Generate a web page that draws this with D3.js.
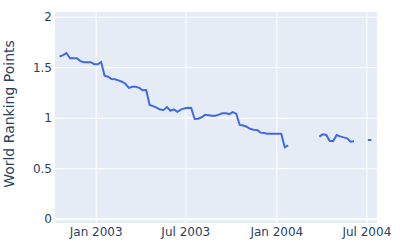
<!DOCTYPE html>
<html>
<head>
<meta charset="utf-8">
<script src="https://cdn.jsdelivr.net/npm/d3@7"></script>
<style>
  body { margin: 0; background: #fff; }
  text { font-family: "DejaVu Sans", Verdana, Arial, sans-serif; }
</style>
</head>
<body>
<svg id="viz"></svg>
<script>
// weekly rankings, starting week of 20 Oct 2002 (null = no ranking that week)
const startDate = "2002-10-20";
const points = [
  1.604, 1.62, 1.64, 1.588, 1.588, 1.588, 1.56, 1.55, 1.549, 1.549,
  1.53, 1.529, 1.551, 1.416, 1.406, 1.383, 1.38, 1.37, 1.356, 1.336,
  1.295, 1.307, 1.307, 1.295, 1.272, 1.274, 1.126, 1.115, 1.10, 1.08,
  1.076, 1.105, 1.069, 1.083, 1.059, 1.08, 1.092, 1.099, 1.096, 0.987,
  0.99, 1.004, 1.028, 1.025, 1.02, 1.02, 1.03, 1.044, 1.044, 1.036,
  1.056, 1.04, 0.928, 0.922, 0.911, 0.89, 0.88, 0.878, 0.852, 0.848,
  0.842, 0.842, 0.842, 0.842, 0.842, 0.707, 0.727, null, null, null,
  null, null, null, null, null, 0.812, 0.835, 0.829, 0.769, 0.769,
  0.829, 0.815, 0.805, 0.796, 0.762, 0.766, null, null, null, 0.779,
  0.779
];
const xTicks = ["2003-01-01", "2003-07-01", "2004-01-01", "2004-07-01"];
const xTickLabels = ["Jan 2003", "Jul 2003", "Jan 2004", "Jul 2004"];
const yTicks = [0, 0.5, 1, 1.5, 2];

const width = 400, height = 250;
const plotLeft = 55, plotRight = 377, plotTop = 12, plotBottom = 223;

const parse = d3.timeParse("%Y-%m-%d");
const start = parse(startDate);
const data = points.map((v, i) => ({ date: d3.timeDay.offset(start, i * 7), value: v }));

const svg = d3.select("#viz").attr("width", width).attr("height", height);

// scale pinned on Jan 2003 / Jan 2004 gridlines, then widened to the plot edges
const x0 = d3.scaleTime().domain([parse("2003-01-01"), parse("2004-01-01")]).range([95.7, 276.3]);
const x = d3.scaleTime().domain([x0.invert(plotLeft), x0.invert(plotRight)]).range([plotLeft, plotRight]);
const y = d3.scaleLinear().domain([-0.0426, 2.0465]).range([plotBottom, plotTop]);

svg.append("rect").attr("x", plotLeft).attr("y", plotTop).attr("width", plotRight - plotLeft).attr("height", plotBottom - plotTop).attr("fill", "#e5ecf6");

const xAxis = svg.append("g").attr("transform", `translate(0, ${plotBottom})`)
  .call(d3.axisBottom(x).tickValues(xTicks.map(parse)).tickFormat((d, i) => xTickLabels[i]).tickSize(-(plotBottom - plotTop)).tickPadding(4));
xAxis.select(".domain").remove();
xAxis.selectAll("line").attr("stroke", "#fff").attr("stroke-width", 1);
xAxis.selectAll("text").attr("fill", "#2a3f5f").style("font-size", "12px");

const yAxis = svg.append("g").attr("transform", `translate(${plotLeft}, 0)`)
  .call(d3.axisLeft(y).tickValues(yTicks).tickFormat(d3.format("")).tickSize(-(plotRight - plotLeft)).tickPadding(3));
yAxis.select(".domain").remove();
yAxis.selectAll("line").attr("stroke", "#fff").attr("stroke-width", d => d === 0 ? 2 : 1);
yAxis.selectAll("text").attr("fill", "#2a3f5f").style("font-size", "12px");

svg.append("text").attr("transform", "rotate(-90)").attr("x", -114).attr("y", 14)
  .attr("text-anchor", "middle").attr("fill", "#2a3f5f").style("font-size", "14px").text("World Ranking Points");

const line = d3.line().defined(d => d.value !== null).x(d => x(d.date)).y(d => y(d.value));
svg.append("path").datum(data).attr("d", line).attr("fill", "none").attr("stroke", "#4169e1").attr("stroke-width", 2);
</script>
</body>
</html>
